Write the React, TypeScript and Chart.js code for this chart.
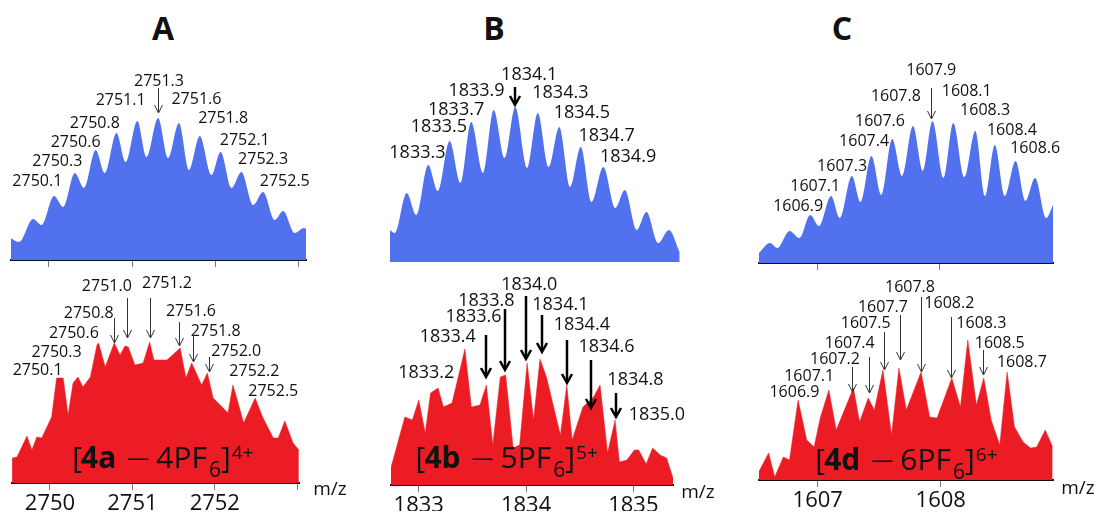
import React, { useEffect, useRef } from 'react';
import { Chart, registerables } from 'chart.js';

Chart.register(...registerables);

// ---------------- DATA ----------------
// Panel A, simulated (blue)
const A_SIM_MZ = [2749.54, 2749.64, 2749.81, 2749.91, 2750.06, 2750.17, 2750.31, 2750.42, 2750.56, 2750.67, 2750.81, 2750.92, 2751.06, 2751.17, 2751.31, 2751.43, 2751.56, 2751.68, 2751.81, 2751.95, 2752.06, 2752.19, 2752.31, 2752.45, 2752.57, 2752.71, 2752.81, 2752.95, 2753.06, 2753.09];
const A_SIM_INT = [22, 18, 41, 35, 64, 53, 87, 72, 110, 87, 127, 98, 139, 103, 142, 102, 137, 90, 124, 85, 108, 72, 88, 55, 68, 40, 49, 27, 32, 31];
// Panel A, experimental (red)
const A_EXP_MZ = [2749.54, 2749.60, 2749.72, 2749.78, 2749.84, 2749.90, 2750.02, 2750.08, 2750.16, 2750.22, 2750.28, 2750.34, 2750.40, 2750.49, 2750.57, 2750.59, 2750.67, 2750.78, 2750.85, 2750.91, 2750.95, 2751.03, 2751.13, 2751.21, 2751.26, 2751.42, 2751.58, 2751.65, 2751.72, 2751.84, 2751.91, 2751.98, 2752.09, 2752.16, 2752.22, 2752.28, 2752.35, 2752.49, 2752.58, 2752.71, 2752.77, 2752.85, 2752.95, 2753.02];
const A_EXP_INT = [25, 26, 47, 33, 46, 45, 66, 105, 105, 68, 100, 106, 96, 106, 138, 140, 116, 140, 128, 137, 136, 118, 120, 141, 123, 123, 135, 105, 120, 98, 110, 85, 76, 70, 98, 81, 60, 85, 66, 45, 45, 62, 40, 33];

// Panel B, simulated
const B_SIM_MZ = [1832.93, 1832.98, 1833.09, 1833.18, 1833.29, 1833.38, 1833.49, 1833.59, 1833.69, 1833.80, 1833.90, 1834.00, 1834.10, 1834.21, 1834.31, 1834.41, 1834.51, 1834.61, 1834.71, 1834.81, 1834.92, 1835.03, 1835.12, 1835.23, 1835.32, 1835.43, 1835.53, 1835.63];
const B_SIM_INT = [32, 29, 69, 47, 97, 71, 121, 79, 140, 89, 152, 104, 155, 94, 149, 95, 135, 75, 115, 60, 95, 54, 72, 32, 50, 19, 32, 10];
// Panel B, experimental
const B_EXP_MZ = [1832.74, 1832.87, 1832.94, 1833.00, 1833.06, 1833.11, 1833.18, 1833.23, 1833.31, 1833.43, 1833.49, 1833.57, 1833.63, 1833.69, 1833.76, 1833.81, 1833.88, 1833.94, 1834.01, 1834.07, 1834.13, 1834.19, 1834.32, 1834.38, 1834.43, 1834.53, 1834.63, 1834.69, 1834.76, 1834.83, 1834.87, 1834.94, 1835.01, 1835.05, 1835.12, 1835.18, 1835.25, 1835.31, 1835.37];
const B_EXP_INT = [17, 68, 65, 85, 52, 92, 97, 78, 82, 136, 78, 80, 100, 40, 108, 110, 37, 40, 122, 65, 126, 108, 50, 100, 45, 78, 88, 100, 32, 65, 23, 25, 35, 35, 21, 37, 30, 27, 7];

// Panel C, simulated
const C_SIM_MZ = [1606.52, 1606.61, 1606.67, 1606.77, 1606.85, 1606.94, 1607.01, 1607.11, 1607.18, 1607.28, 1607.35, 1607.44, 1607.52, 1607.61, 1607.69, 1607.78, 1607.86, 1607.94, 1608.03, 1608.11, 1608.20, 1608.29, 1608.37, 1608.45, 1608.53, 1608.62, 1608.70, 1608.78, 1608.87, 1608.93];
const C_SIM_INT = [10, 20, 15, 32, 25, 48, 37, 67, 45, 87, 61, 107, 68, 124, 87, 137, 92, 142, 85, 140, 86, 132, 67, 118, 67, 102, 62, 85, 45, 59];
// Panel C, experimental
const C_EXP_MZ = [1606.52, 1606.60, 1606.65, 1606.72, 1606.77, 1606.84, 1606.91, 1606.97, 1607.02, 1607.09, 1607.15, 1607.29, 1607.34, 1607.41, 1607.46, 1607.53, 1607.60, 1607.66, 1607.72, 1607.84, 1607.91, 1607.97, 1608.09, 1608.16, 1608.22, 1608.29, 1608.35, 1608.41, 1608.48, 1608.54, 1608.60, 1608.67, 1608.73, 1608.78, 1608.85, 1608.91];
const C_EXP_INT = [8, 27, 3, 23, 20, 80, 40, 33, 62, 90, 50, 92, 58, 82, 70, 110, 45, 112, 70, 108, 63, 62, 102, 73, 140, 75, 102, 60, 35, 108, 53, 38, 32, 33, 50, 33];

// Tick values and labels
const A_TICKS = [2750, 2751, 2752, 2753];
const A_TICK_LABELS = ['2750', '2751', '2752', ''];
const B_TICKS = [1833, 1834, 1835];
const B_TICK_LABELS = ['1833', '1834', '1835'];
const C_TICKS = [1607, 1608];
const C_TICK_LABELS = ['1607', '1608'];

// Peak labels
const A_SIM_LABELS = ['2750.1', '2750.3', '2750.6', '2750.8', '2751.1', '2751.3', '2751.6', '2751.8', '2752.1', '2752.3', '2752.5'];
const A_EXP_LABELS = ['2750.1', '2750.3', '2750.6', '2750.8', '2751.0', '2751.2', '2751.6', '2751.8', '2752.0', '2752.2', '2752.5'];
const B_SIM_LABELS = ['1833.3', '1833.5', '1833.7', '1833.9', '1834.1', '1834.3', '1834.5', '1834.7', '1834.9'];
const B_EXP_LABELS = ['1833.2', '1833.4', '1833.6', '1833.8', '1834.0', '1834.1', '1834.4', '1834.6', '1834.8', '1835.0'];
const C_SIM_LABELS = ['1606.9', '1607.1', '1607.3', '1607.4', '1607.6', '1607.8', '1607.9', '1608.1', '1608.3', '1608.4', '1608.6'];
const C_EXP_LABELS = ['1606.9', '1607.1', '1607.2', '1607.4', '1607.5', '1607.7', '1607.8', '1608.2', '1608.3', '1608.5', '1608.7'];

// ---------------- ANNOTATION LAYOUT (data coords: m/z, intensity) ----------------
const A_SIM_LABEL_POS = [[2749.86, 79], [2750.10, 99], [2750.32, 118], [2750.55, 137], [2750.86, 160], [2751.32, 179], [2751.77, 161], [2752.09, 142], [2752.35, 120], [2752.57, 101], [2752.83, 79]];
const A_SIM_ARROWS = [[2751.31, 172, 147]];
const A_EXP_LABEL_POS = [[2749.85, 113], [2750.08, 131], [2750.29, 150], [2750.47, 170], [2750.69, 197], [2751.42, 200], [2751.71, 172], [2752.01, 152], [2752.26, 132], [2752.48, 112], [2752.71, 92]];
const A_EXP_ARROWS = [[2750.78, 165, 140], [2750.93, 185, 145], [2751.21, 185, 145], [2751.57, 161, 137], [2751.74, 148, 121], [2751.93, 126, 111]];
const B_SIM_LABEL_POS = [[1833.19, 109], [1833.39, 135], [1833.55, 152], [1833.74, 171], [1834.23, 187], [1834.52, 169], [1834.72, 149], [1834.95, 126], [1835.15, 105]];
const B_SIM_ARROWS = [[1834.10, 175, 157]];
const B_EXP_LABEL_POS = [[1833.07, 112], [1833.27, 148], [1833.51, 168], [1833.63, 184], [1834.03, 200], [1834.32, 180], [1834.52, 160], [1834.75, 138], [1835.02, 105], [1835.22, 70]];
const B_EXP_ARROWS = [[1833.63, 150, 108], [1833.80, 176, 115], [1834.00, 189, 126], [1834.15, 170, 133], [1834.38, 145, 102], [1834.61, 125, 77], [1834.84, 92, 68]];
const C_SIM_LABEL_POS = [[1606.84, 57], [1606.98, 77], [1607.20, 97], [1607.38, 122], [1607.51, 142], [1607.64, 167], [1607.93, 193], [1608.22, 172], [1608.37, 153], [1608.59, 133], [1608.78, 115]];
const C_SIM_ARROWS = [[1607.93, 175, 144]];
const C_EXP_LABEL_POS = [[1606.81, 88], [1606.93, 104], [1607.14, 121], [1607.26, 137], [1607.39, 157], [1607.53, 173], [1607.75, 193], [1608.07, 177], [1608.33, 157], [1608.48, 137], [1608.66, 118]];
const C_EXP_ARROWS = [[1607.28, 113, 88], [1607.42, 123, 87], [1607.54, 148, 110], [1607.67, 165, 120], [1607.84, 183, 108], [1608.08, 163, 102], [1608.34, 130, 105]];

const W = 1099;
const H = 514;
const BLUE = '#5171ee';
const RED = '#ec1c24';
const INK = '#111111';
const FONT = '"Open Sans", "Noto Sans", sans-serif';
const TICK_FONT = '"Liberation Sans Narrow", "Open Sans", sans-serif';

type Spec = {
  mz: number[];
  int: number[];
  color: string;
  smooth: boolean;
  area: { left: number; right: number; top: number; base: number; axisH: number };
  min: number;
  max: number;
  axis: 'none' | 'marks' | 'full';
  ticks: number[];
  tickLabels: string[];
  labels: string[];
  labelPos: number[][];
  labelSize: number;
  arrows: number[][];
  arrowWidth: number;
  arrowColor: string;
  head: [number, number];
  formula?: { ion: string; n: string; charge: string; pos: [number, number] };
  mzOffset?: [number, number];
};

const SPECS: Spec[] = [
  {
    mz: A_SIM_MZ, int: A_SIM_INT, color: BLUE, smooth: true,
    area: { left: 11, right: 306, top: 60, base: 260, axisH: 8 }, min: 2749.544, max: 2753.085,
    axis: 'marks', ticks: A_TICKS, tickLabels: A_TICK_LABELS,
    labels: A_SIM_LABELS, labelPos: A_SIM_LABEL_POS, labelSize: 16,
    arrows: A_SIM_ARROWS, arrowWidth: 1, arrowColor: '#333', head: [4, 8],
  },
  {
    mz: A_EXP_MZ, int: A_EXP_INT, color: RED, smooth: false,
    area: { left: 12, right: 299, top: 280, base: 483, axisH: 28 }, min: 2749.539, max: 2753.022,
    axis: 'full', ticks: A_TICKS, tickLabels: A_TICK_LABELS,
    labels: A_EXP_LABELS, labelPos: A_EXP_LABEL_POS, labelSize: 16,
    arrows: A_EXP_ARROWS, arrowWidth: 1, arrowColor: '#333', head: [4, 8],
    formula: { ion: '4a', n: '4', charge: '4+', pos: [2750.27, 15] }, mzOffset: [31, 7],
  },
  {
    mz: B_SIM_MZ, int: B_SIM_INT, color: BLUE, smooth: true,
    area: { left: 390, right: 680, top: 60, base: 262, axisH: 0 }, min: 1832.935, max: 1835.633,
    axis: 'none', ticks: B_TICKS, tickLabels: B_TICK_LABELS,
    labels: B_SIM_LABELS, labelPos: B_SIM_LABEL_POS, labelSize: 18,
    arrows: B_SIM_ARROWS, arrowWidth: 2.5, arrowColor: '#000', head: [5, 9],
  },
  {
    mz: B_EXP_MZ, int: B_EXP_INT, color: RED, smooth: false,
    area: { left: 391, right: 673, top: 280, base: 485, axisH: 26 }, min: 1832.741, max: 1835.37,
    axis: 'full', ticks: B_TICKS, tickLabels: B_TICK_LABELS,
    labels: B_EXP_LABELS, labelPos: B_EXP_LABEL_POS, labelSize: 18,
    arrows: B_EXP_ARROWS, arrowWidth: 2.5, arrowColor: '#000', head: [5, 9],
    formula: { ion: '4b', n: '5', charge: '5+', pos: [1832.97, 17] }, mzOffset: [25, 8],
  },
  {
    mz: C_SIM_MZ, int: C_SIM_INT, color: BLUE, smooth: true,
    area: { left: 759, right: 1053, top: 60, base: 263, axisH: 8 }, min: 1606.52, max: 1608.926,
    axis: 'marks', ticks: C_TICKS, tickLabels: C_TICK_LABELS,
    labels: C_SIM_LABELS, labelPos: C_SIM_LABEL_POS, labelSize: 16,
    arrows: C_SIM_ARROWS, arrowWidth: 1, arrowColor: '#333', head: [4, 8],
  },
  {
    mz: C_EXP_MZ, int: C_EXP_INT, color: RED, smooth: false,
    area: { left: 759, right: 1053, top: 280, base: 480, axisH: 28 }, min: 1606.522, max: 1608.913,
    axis: 'full', ticks: C_TICKS, tickLabels: C_TICK_LABELS,
    labels: C_EXP_LABELS, labelPos: C_EXP_LABEL_POS, labelSize: 16,
    arrows: C_EXP_ARROWS, arrowWidth: 1, arrowColor: '#333', head: [4, 8],
    formula: { ion: '4d', n: '6', charge: '6+', pos: [1606.98, 10] }, mzOffset: [25, 9],
  },
];

function makeAnnotationPlugin(s: Spec) {
  return {
    id: 'annotations',
    afterDraw(chart: any) {
      const { ctx, scales, chartArea } = chart;
      const xs = scales.x;
      const ys = scales.y;
      ctx.save();
      ctx.fillStyle = INK;
      ctx.textAlign = 'center';
      ctx.textBaseline = 'middle';
      ctx.font = `${s.labelSize}px ${FONT}`;
      s.labels.forEach((t, i) => {
        const [mx, my] = s.labelPos[i];
        ctx.fillText(t, xs.getPixelForValue(mx), ys.getPixelForValue(my));
      });
      ctx.strokeStyle = s.arrowColor;
      ctx.lineWidth = s.arrowWidth;
      ctx.lineCap = 'butt';
      ctx.lineJoin = 'miter';
      const [hw, hl] = s.head;
      s.arrows.forEach(([mx, y1, y2]) => {
        const px = Math.round(xs.getPixelForValue(mx)) + (s.arrowWidth === 1 ? 0.5 : 0);
        const a = ys.getPixelForValue(y1);
        const b = ys.getPixelForValue(y2);
        ctx.beginPath();
        ctx.moveTo(px, a);
        ctx.lineTo(px, b - 1);
        ctx.stroke();
        ctx.beginPath();
        ctx.moveTo(px - hw, b - hl);
        ctx.lineTo(px, b);
        ctx.lineTo(px + hw, b - hl);
        ctx.stroke();
      });
      if (s.formula) {
        const f = s.formula;
        let x = xs.getPixelForValue(f.pos[0]);
        const y = ys.getPixelForValue(f.pos[1]);
        ctx.textAlign = 'left';
        ctx.textBaseline = 'alphabetic';
        // [text, font, dy, gapBefore]
        const segs: [string, string, number, number][] = [
          ['[', `30px ${FONT}`, 0, 0],
          [f.ion, `bold 30px ${FONT}`, 0, -1],
          ['\u2014', `22px ${FONT}`, -3, 11],
          [f.n + 'PF', `30px ${FONT}`, 0, 7],
          ['6', `21px ${FONT}`, 9, 2],
          [']', `30px ${FONT}`, 0, 0],
          [f.charge, `19px ${FONT}`, -9, 1],
        ];
        segs.forEach(([t, font, dy, gap]) => {
          ctx.font = font;
          x += gap;
          ctx.fillText(t, x, y + dy);
          x += ctx.measureText(t).width;
        });
      }
      if (s.mzOffset) {
        ctx.font = `19px ${FONT}`;
        ctx.textAlign = 'center';
        ctx.textBaseline = 'middle';
        ctx.fillText('m/z', chartArea.right + s.mzOffset[0], chartArea.bottom + s.mzOffset[1]);
      }
      ctx.restore();
    },
  };
}

function SpectrumLayer({ spec }: { spec: Spec }) {
  const ref = useRef<HTMLCanvasElement | null>(null);
  useEffect(() => {
    if (!ref.current) return;
    const s = spec;
    const a = s.area;
    const points = s.mz.map((x, i) => ({ x, y: s.int[i] }));
    const chart = new Chart(ref.current, {
      type: 'line',
      data: {
        datasets: [
          {
            data: points,
            fill: 'origin',
            backgroundColor: s.color,
            borderColor: s.color,
            borderWidth: s.smooth ? 0 : 0.5,
            pointRadius: 0,
            cubicInterpolationMode: s.smooth ? 'monotone' : 'default',
            tension: 0,
          },
        ],
      },
      options: {
        animation: false,
        responsive: false,
        devicePixelRatio: 1,
        events: [],
        layout: {
          padding: { left: a.left, right: W - a.right, top: a.top, bottom: H - a.base - a.axisH },
        },
        plugins: { legend: { display: false }, tooltip: { enabled: false }, title: { display: false } },
        scales: {
          x: {
            type: 'linear',
            display: s.axis !== 'none',
            min: s.min,
            max: s.max,
            bounds: 'data',
            afterBuildTicks: (sc: any) => {
              sc.ticks = s.ticks.map((v) => ({ value: v }));
            },
            afterFit: (sc: any) => {
              sc.height = a.axisH;
            },
            grid: { drawOnChartArea: false, drawTicks: true, tickLength: 7, tickColor: '#777', tickWidth: 1 },
            border: { display: true, color: '#111', width: 2 },
            ticks: {
              display: s.axis === 'full',
              autoSkip: false,
              maxRotation: 0,
              padding: 1,
              color: INK,
              font: { family: TICK_FONT, size: 22 },
              callback: (_v: any, i: number) => s.tickLabels[i],
            },
          },
          y: { display: false, min: 0, max: a.base - a.top },
        },
      },
      plugins: [makeAnnotationPlugin(s)],
    } as any);
    return () => chart.destroy();
  }, [spec]);
  return <canvas ref={ref} width={W} height={H} style={{ position: 'absolute', left: 0, top: 0 }} />;
}

const TITLES: [string, number][] = [['A', 163], ['B', 494], ['C', 842]];

export default function App() {
  return (
    <div style={{ position: 'absolute', left: 0, top: 0, width: W, height: H, background: '#fff', overflow: 'hidden' }}>
      {TITLES.map(([t, x]) => (
        <div
          key={t}
          style={{
            position: 'absolute', left: x - 30, top: 6, width: 60, textAlign: 'center',
            font: `bold 32px ${FONT}`, color: INK, lineHeight: '44px',
          }}
        >
          {t}
        </div>
      ))}
      {SPECS.map((s, i) => (
        <SpectrumLayer key={i} spec={s} />
      ))}
    </div>
  );
}
